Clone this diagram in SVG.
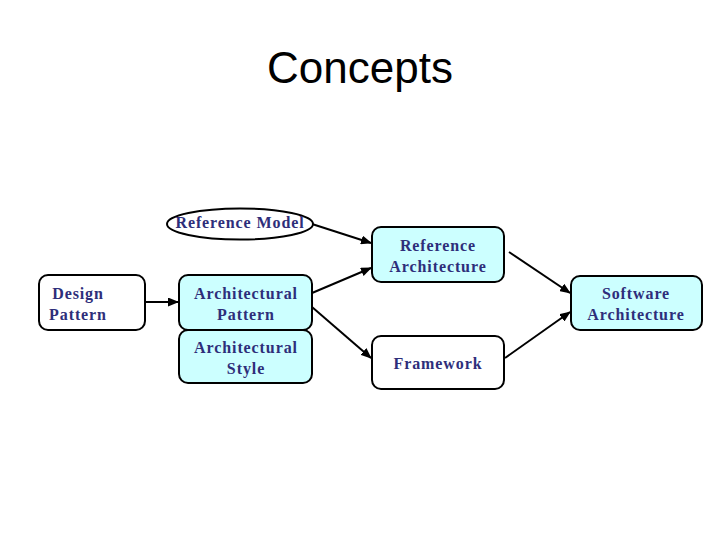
<svg xmlns="http://www.w3.org/2000/svg" width="720" height="540" viewBox="0 0 720 540">
<style>
.box{stroke:#000;stroke-width:2;}
.w{fill:#fff;}
.c{fill:#ccffff;}
.t{font-family:"Liberation Serif","Times New Roman",serif;font-size:16px;font-weight:bold;fill:#2e2e7a;text-anchor:middle;letter-spacing:0.9px;}
.e{stroke:#000;stroke-width:2;fill:none;}
</style>
<defs>
<marker id="ah" markerWidth="11" markerHeight="9" refX="10" refY="4.5" orient="auto" markerUnits="userSpaceOnUse">
<path d="M0,0 L11,4.5 L0,9 Z" fill="#000"/>
</marker>
</defs>
<rect width="720" height="540" fill="#fff"/>
<text x="360" y="83" font-family="Liberation Sans, Arial, sans-serif" font-size="44" text-anchor="middle" fill="#000">Concepts</text>
<g id="connectors">
<line class="e" x1="145" y1="302" x2="178" y2="302" marker-end="url(#ah)"/>
<line class="e" x1="312" y1="224" x2="371" y2="243" marker-end="url(#ah)"/>
<line class="e" x1="312" y1="293" x2="371" y2="268" marker-end="url(#ah)"/>
<line class="e" x1="312" y1="307" x2="371" y2="358" marker-end="url(#ah)"/>
<line class="e" x1="509" y1="252" x2="570" y2="293" marker-end="url(#ah)"/>
<line class="e" x1="505" y1="358" x2="570" y2="312" marker-end="url(#ah)"/>
</g>
<g id="reference-model">
<ellipse class="box w" cx="240" cy="224" rx="73" ry="15.5"/>
<text class="t" x="240" y="228">Reference Model</text>
</g>
<g id="design-pattern">
<rect class="box w" x="39" y="275" width="106" height="55" rx="9"/>
<text class="t" x="78" y="299">Design</text>
<text class="t" x="78" y="320">Pattern</text>
</g>
<g id="architectural-pattern">
<rect class="box c" x="179" y="275" width="133" height="55" rx="9"/>
<text class="t" x="246" y="299">Architectural</text>
<text class="t" x="246" y="320">Pattern</text>
</g>
<g id="architectural-style">
<rect class="box c" x="179" y="330" width="133" height="53" rx="9"/>
<text class="t" x="246" y="353">Architectural</text>
<text class="t" x="246" y="374">Style</text>
</g>
<g id="reference-architecture">
<rect class="box c" x="372" y="227" width="132" height="55" rx="9"/>
<text class="t" x="438" y="251">Reference</text>
<text class="t" x="438" y="272">Architecture</text>
</g>
<g id="framework">
<rect class="box w" x="372" y="336" width="132" height="53" rx="9"/>
<text class="t" x="438" y="369">Framework</text>
</g>
<g id="software-architecture">
<rect class="box c" x="571" y="276" width="131" height="54" rx="9"/>
<text class="t" x="636" y="299">Software</text>
<text class="t" x="636" y="320">Architecture</text>
</g>
</svg>
